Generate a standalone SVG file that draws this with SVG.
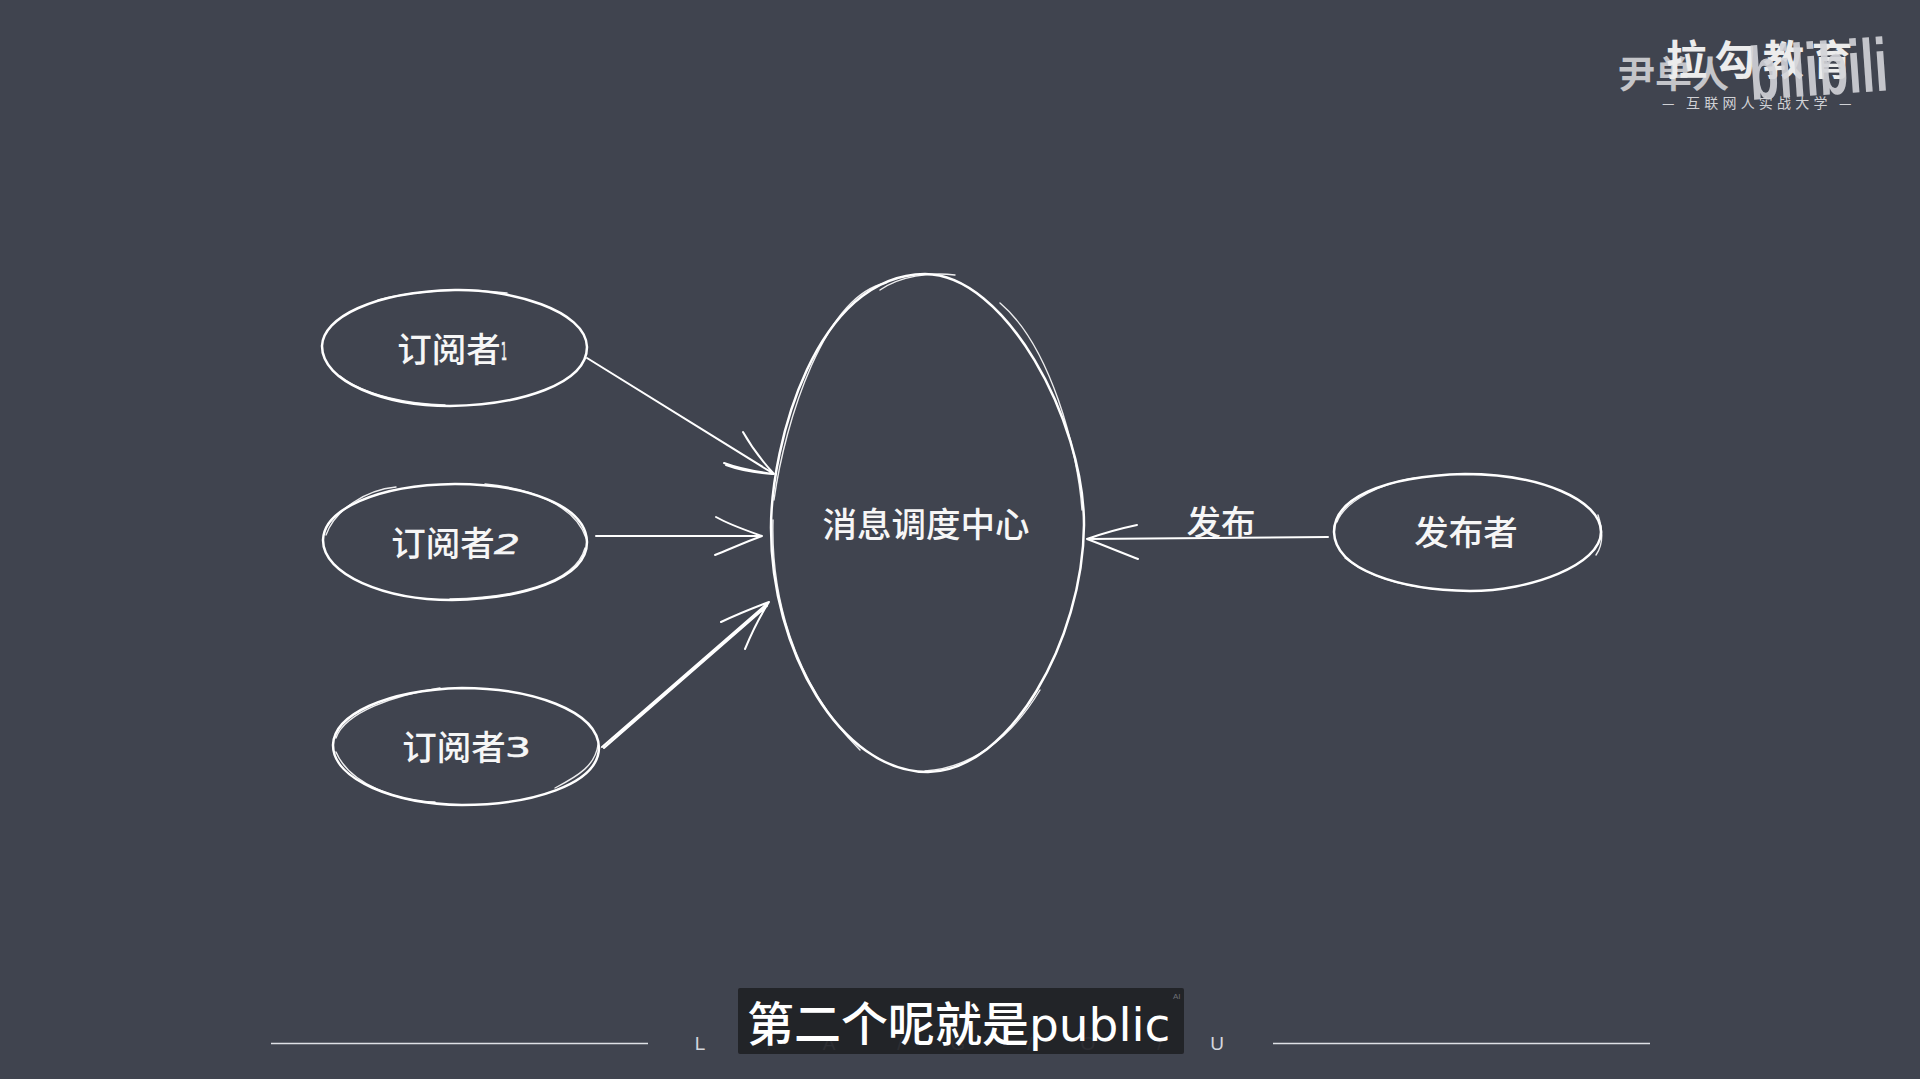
<svg xmlns="http://www.w3.org/2000/svg" width="1920" height="1079" viewBox="0 0 1920 1079">
<style>
.s{fill:none;stroke:#fff;stroke-width:2.5;stroke-linecap:round;stroke-linejoin:round}
.t{stroke-width:1.4;opacity:.9}
.c{stroke-width:2}
.l{font-family:"Noto Sans CJK SC","Noto Sans",sans-serif;font-size:34.5px;font-weight:500;fill:#f6f6f6;text-anchor:middle;dominant-baseline:central}
.n{font-family:"DejaVu Sans",sans-serif;font-weight:400;fill:#f6f6f6;stroke:#f6f6f6;stroke-width:.6;dominant-baseline:central}
.lg{font-family:"Noto Sans CJK SC",sans-serif;font-weight:700}
.f{font-family:"Liberation Sans",sans-serif;font-size:19px;fill:#d4d6dc;text-anchor:middle}
</style>
<rect width="1920" height="1079" fill="#40444f"/>
<g id="logo">
<text class="lg" x="1618" y="88" font-size="37" fill="#c4c5c9">尹单人</text>
<text class="lg" x="1666" y="75" font-size="41" letter-spacing="7.5" fill="#ececec">拉勾教育</text>
<text transform="translate(1751 100) rotate(-4) scale(.8 1.25)" x="0" y="0" font-family="Liberation Sans,sans-serif" font-weight="700" font-size="60" fill="#d3d4d8" fill-opacity=".9">bilibili</text>
<text x="1662" y="108" font-family="Noto Sans CJK SC,sans-serif" font-size="14" letter-spacing="4.2" fill="#d0d1d5">— 互联网人实战大学 —</text>
</g>
<g id="subscriber-1">
<path class="s" d="M322 346C323 318 372 292 455 290C510 289 586 310 587 347C587 384 520 405 450 406C385 406 322 382 322 346Z"/>
<path class="s t" d="M378 300C420 289 470 288 507 293M340 376C365 396 410 404 445 405"/>
<text class="l" x="449" y="347">订阅者</text>
<text class="n" x="501" y="351" font-size="25" textLength="6" lengthAdjust="spacingAndGlyphs">1</text>
</g>
<g id="subscriber-2">
<path class="s" d="M323 540C324 510 375 485 455 484C525 484 586 505 587 542C587 580 520 599 452 600C385 600 323 575 323 540Z"/>
<path class="s t" d="M326 535C335 510 365 490 396 487M485 484C530 488 575 505 586 538M450 599C510 598 575 585 585 548"/>
<text class="l" x="443" y="541">订阅者</text>
<text class="n" x="494" y="544" font-size="27" font-style="italic" textLength="26" lengthAdjust="spacingAndGlyphs">2</text>
</g>
<g id="subscriber-3">
<path class="s" d="M333 745C334 715 385 690 462 688C530 688 598 710 599 748C598 785 530 805 462 805C395 804 333 780 333 745Z"/>
<path class="s t" d="M336 738C345 712 395 695 440 688M336 752C350 785 400 802 435 802M555 788C580 775 595 765 598 745"/>
<text class="l" x="454" y="745">订阅者</text>
<text class="n" x="505" y="747" font-size="27" textLength="26" lengthAdjust="spacingAndGlyphs">3</text>
</g>
<g id="dispatch-center">
<path class="s" d="M771 528C771 445 815 275 925 274C1005 274 1084 420 1084 525C1083 640 1010 771 928 772C840 772 771 650 771 528Z"/>
<path class="s t" d="M774 500C785 420 825 295 886 283M880 290C900 276 930 272 955 275M1000 303C1050 345 1078 450 1082 510M773 520C771 590 790 680 860 750M1040 690C1010 740 970 768 925 771"/>
<text class="l" x="926" y="522">消息调度中心</text>
</g>
<g id="publisher">
<path class="s" d="M1334 532C1334 500 1380 476 1465 474C1540 474 1601 500 1601 532C1601 565 1530 591 1470 591C1400 590 1335 570 1334 532Z"/>
<path class="s t" d="M1337 522C1345 500 1385 482 1415 478M1598 515C1603 530 1603 545 1596 555M1345 558C1370 578 1405 586 1435 589"/>
<text class="l" x="1466" y="530">发布者</text>
</g>
<g id="connectors">
<path class="s c" d="M587 358L774 474M743 432C752 448 763 462 774 474M724 463C740 469 758 472 774 474M726 465C742 471 760 473 772 474"/>
<path class="s c" d="M596 536L762 536M716 517C730 525 748 531 762 536M715 555C730 549 748 541 762 536"/>
<path class="s c" d="M602 747L769 602M604 748L767 606M721 622C738 614 753 608 769 602M745 649C752 632 760 616 769 602"/>
<path class="s c" d="M1328 537L1087 539M1137 525C1118 529 1101 534 1087 539M1138 559C1120 552 1103 545 1087 539"/>
<text class="l" x="1221" y="520">发布</text>
</g>
<g id="footer">
<path d="M271 1043.5H648M1273 1043.5H1650" stroke="#dfe1e6" stroke-width="1.4"/>
<text class="f" x="700" y="1050">L</text>
<text class="f" x="770" y="1050">/</text>
<text class="f" x="829" y="1050">A</text>
<text class="f" x="900" y="1050">/</text>
<text class="f" x="958" y="1050">G</text>
<text class="f" x="1030" y="1050">/</text>
<text class="f" x="1088" y="1050">O</text>
<text class="f" x="1160" y="1050">/</text>
<text class="f" x="1217" y="1050">U</text>
</g>
<g id="caption">
<rect x="738" y="988" width="446" height="66" rx="2" fill="#202126" fill-opacity=".93"/>
<text x="747" y="1041" font-family="Noto Sans CJK SC,sans-serif" font-size="47" font-weight="500" fill="#fff">第二个呢就是<tspan font-family="DejaVu Sans,sans-serif" font-weight="400">public</tspan></text>
<text x="1173" y="999" font-family="Liberation Sans,sans-serif" font-size="8" fill="#6e7076">AI</text>
</g>
</svg>
